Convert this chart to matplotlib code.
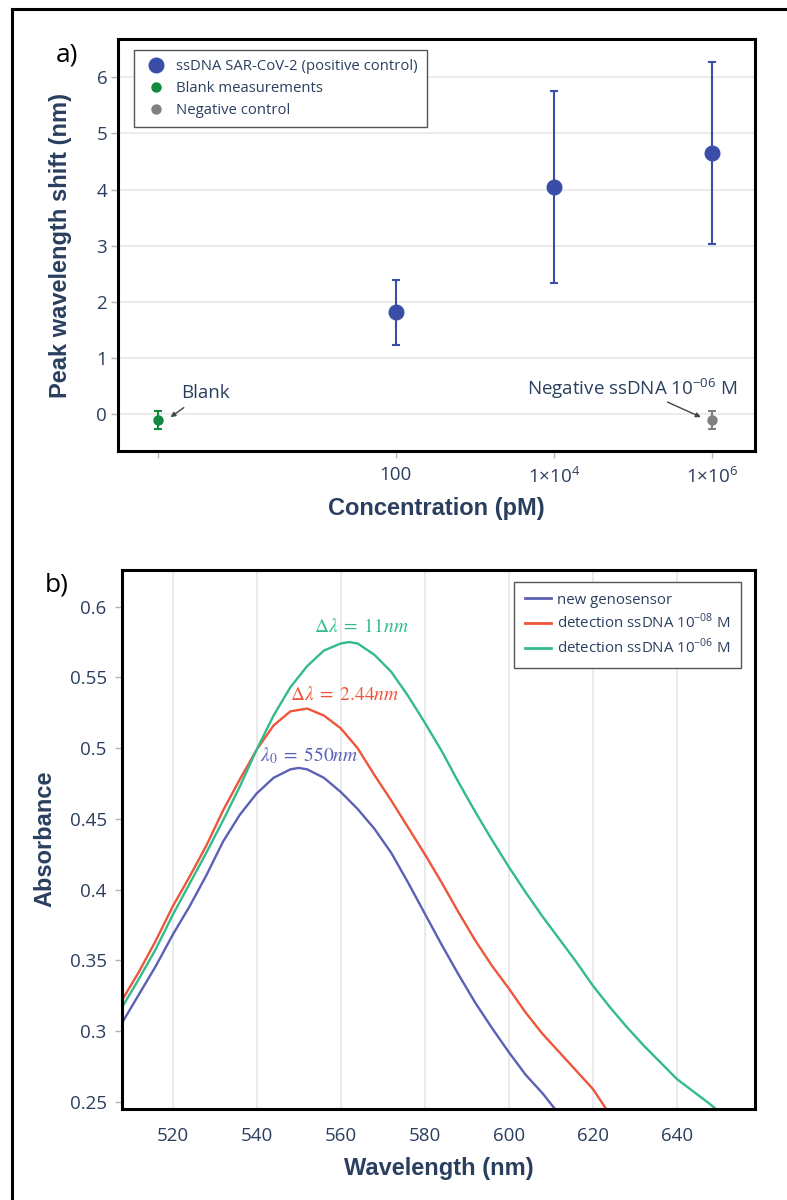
import matplotlib
matplotlib.use('Agg')
import matplotlib.pyplot as plt
from matplotlib.lines import Line2D
from matplotlib.ticker import NullLocator, FixedLocator, FixedFormatter

# ---------------- Panel a data ----------------
conc_pos = [100, 1e4, 1e6]
shift_pos = [1.82, 4.05, 4.65]
err_pos = [0.58, 1.71, 1.62]
conc_blank = [0.1]
shift_blank = [-0.10]
err_blank = [0.16]
conc_neg = [1e6]
shift_neg = [-0.10]
err_neg = [0.16]
xticks_a = [0.1, 100, 1e4, 1e6]
xticklabels_a = ['', '100', r'1×10$^{\mathregular{4}}$', r'1×10$^{\mathregular{6}}$']
yticks_a = [0, 1, 2, 3, 4, 5, 6]

# ---------------- Panel b data ----------------
blue_wl = [508, 512, 516, 520, 524, 528, 532, 536, 540, 544, 548, 550, 552, 556, 560, 564,
           568, 572, 576, 580, 584, 588, 592, 596, 600, 604, 608, 612]
blue_abs = [0.306, 0.326, 0.346, 0.368, 0.388, 0.410, 0.434, 0.453, 0.468, 0.479, 0.485, 0.486,
            0.485, 0.479, 0.469, 0.457, 0.443, 0.426, 0.405, 0.383, 0.361, 0.340, 0.320, 0.302,
            0.285, 0.269, 0.256, 0.241]
red_wl = [508, 512, 516, 520, 524, 528, 532, 536, 540, 544, 548, 552, 556, 560, 564, 568, 572,
          576, 580, 584, 588, 592, 596, 600, 604, 608, 612, 616, 620, 624]
red_abs = [0.322, 0.342, 0.364, 0.388, 0.409, 0.431, 0.456, 0.478, 0.499, 0.516, 0.526, 0.528,
           0.523, 0.514, 0.500, 0.481, 0.463, 0.444, 0.425, 0.405, 0.384, 0.364, 0.346, 0.330,
           0.313, 0.298, 0.285, 0.272, 0.259, 0.241]
green_wl = [508, 512, 516, 520, 524, 528, 532, 536, 540, 544, 548, 552, 556, 560, 562, 564, 568,
            572, 576, 580, 584, 588, 592, 596, 600, 604, 608, 612, 616, 620, 624, 628, 632, 636,
            640, 644, 648, 650]
green_abs = [0.317, 0.337, 0.358, 0.382, 0.404, 0.426, 0.449, 0.473, 0.499, 0.523, 0.543, 0.558,
             0.569, 0.574, 0.575, 0.574, 0.566, 0.554, 0.537, 0.518, 0.498, 0.476, 0.455, 0.435,
             0.416, 0.398, 0.381, 0.365, 0.349, 0.332, 0.317, 0.303, 0.290, 0.278, 0.266, 0.257,
             0.248, 0.243]
xticks_b = [520, 540, 560, 580, 600, 620, 640]
yticks_b = [0.25, 0.3, 0.35, 0.4, 0.45, 0.5, 0.55, 0.6]
yticklabels_b = ['0.25', '0.3', '0.35', '0.4', '0.45', '0.5', '0.55', '0.6']

TXT = '#2a3f5f'
TICKFONT = 'Open Sans'
TITLEFONT = 'Liberation Sans'
C_POS, C_BLANK, C_NEG = '#3a4ea7', '#118a3e', '#808080'
C_B, C_R, C_G = '#5c60b4', '#ee553b', '#33bb8a'

W, H = 787, 1200
fig = plt.figure(figsize=(W / 100, H / 100), dpi=100)
fig.patch.set_facecolor('white')

# outer frame
fig.add_artist(Line2D([12 / W, 12 / W], [0, 1 - 9 / H], transform=fig.transFigure, color='black', lw=2.2))
fig.add_artist(Line2D([12 / W, 1], [1 - 9 / H, 1 - 9 / H], transform=fig.transFigure, color='black', lw=2.2))


def style_axes(ax):
    for s in ax.spines.values():
        s.set_linewidth(2.2)
        s.set_color('black')
    ax.set_axisbelow(True)
    for lab in ax.get_xticklabels() + ax.get_yticklabels():
        lab.set_fontfamily(TICKFONT)


# ---------------- Panel a ----------------
ax1 = fig.add_axes([118.3 / W, 1 - 451 / H, (755 - 118.3) / W, (451 - 39.3) / H])
ax1.set_xscale('log')
ax1.set_xlim(10 ** -1.507, 10 ** 6.542)
ax1.set_ylim(-0.653, 6.676)
ax1.yaxis.grid(True, color='#e8e8e8', lw=1.2)
ax1.xaxis.set_minor_locator(NullLocator())
ax1.xaxis.set_major_locator(FixedLocator(xticks_a))
ax1.xaxis.set_major_formatter(FixedFormatter(xticklabels_a))
ax1.set_yticks(yticks_a)
ax1.tick_params(axis='both', direction='out', length=5, width=1, color='#b5b5b5',
                labelcolor=TXT, labelsize=13.5)
ax1.tick_params(axis='x', pad=6)
ax1.tick_params(axis='y', pad=3)

ax1.errorbar(conc_pos, shift_pos, yerr=err_pos, fmt='o', color=C_POS, ms=10.5, elinewidth=1.5,
             capsize=2.6, capthick=1.5, zorder=3)
ax1.errorbar(conc_blank, shift_blank, yerr=err_blank, fmt='o', color=C_BLANK, ms=6.5, elinewidth=1.5,
             capsize=2.6, capthick=1.5, zorder=3)
ax1.errorbar(conc_neg, shift_neg, yerr=err_neg, fmt='o', color=C_NEG, ms=6.5, elinewidth=1.5,
             capsize=2.6, capthick=1.5, zorder=3)

ax1.text(10 ** -0.411, 0.385, 'Blank', color=TXT, fontsize=13.5, fontfamily=TICKFONT,
         ha='center', va='center')
ax1.annotate('', xy=(10 ** -0.875, -0.08), xytext=(10 ** -0.651, 0.148),
             arrowprops=dict(arrowstyle='-|>', color='#444444', lw=1, mutation_scale=7))
ax1.text(10 ** 4.987, 0.463, r'Negative ssDNA 10$^{\mathregular{-06}}$ M', color=TXT, fontsize=13.5,
         fontfamily=TICKFONT, ha='center', va='center')
ax1.annotate('', xy=(10 ** 5.889, -0.07), xytext=(10 ** 5.405, 0.237),
             arrowprops=dict(arrowstyle='-|>', color='#444444', lw=1, mutation_scale=7))

h1 = [Line2D([], [], ls='none', marker='o', color=C_POS, ms=10.5),
      Line2D([], [], ls='none', marker='o', color=C_BLANK, ms=6.5),
      Line2D([], [], ls='none', marker='o', color=C_NEG, ms=6.5)]
leg1 = ax1.legend(h1, ['ssDNA SAR-CoV-2 (positive control)', 'Blank measurements', 'Negative control'],
                  loc='upper left', bbox_to_anchor=(0.0247, 0.974), borderaxespad=0,
                  fancybox=False, edgecolor='#555555', framealpha=1,
                  prop={'family': TICKFONT, 'size': 10.7}, labelspacing=0.48,
                  handlelength=1.8, handletextpad=0.45, borderpad=0.6)
leg1.get_frame().set_linewidth(1)
for t in leg1.get_texts():
    t.set_color(TXT)

ax1.set_ylabel('Peak wavelength shift (nm)', fontsize=17, fontweight='bold', fontfamily=TITLEFONT, color=TXT)
ax1.set_xlabel('Concentration (pM)', fontsize=17, fontweight='bold', fontfamily=TITLEFONT, color=TXT)
ax1.yaxis.set_label_coords(-0.073, 0.5)
ax1.xaxis.set_label_coords(0.5, -0.112)
style_axes(ax1)

# ---------------- Panel b ----------------
ax2 = fig.add_axes([122 / W, 1 - 1108.5 / H, 633 / W, 539 / H])
ax2.set_xlim(507.94, 658.57)
ax2.set_ylim(0.2452, 0.6263)
ax2.xaxis.grid(True, color='#e6e6e6', lw=1.2)
ax2.set_xticks(xticks_b)
ax2.set_yticks(yticks_b)
ax2.set_yticklabels(yticklabels_b)
ax2.tick_params(axis='y', direction='out', length=5, width=1, color='#b5b5b5',
                labelcolor=TXT, labelsize=13.5, pad=6)
ax2.tick_params(axis='x', length=0, labelcolor=TXT, labelsize=13.5, pad=13)

ax2.plot(blue_wl, blue_abs, color=C_B, lw=1.7, label='new genosensor')
ax2.plot(red_wl, red_abs, color=C_R, lw=1.7, label=r'detection ssDNA 10$^{\mathregular{-08}}$ M')
ax2.plot(green_wl, green_abs, color=C_G, lw=1.7, label=r'detection ssDNA 10$^{\mathregular{-06}}$ M')

ax2.text(552.4, 0.4946, r'$\lambda_0\;=\;550nm$', color=C_B, fontsize=14, math_fontfamily='stix',
         ha='center', va='center')
ax2.text(561.0, 0.5382, r'$\Delta\lambda\;=\;2.44nm$', color=C_R, fontsize=14, math_fontfamily='stix',
         ha='center', va='center')
ax2.text(565.0, 0.5863, r'$\Delta\lambda\;=\;11nm$', color=C_G, fontsize=14, math_fontfamily='stix',
         ha='center', va='center')

leg2 = ax2.legend(loc='upper right', bbox_to_anchor=(0.978, 0.977), borderaxespad=0,
                  fancybox=False, edgecolor='#555555', framealpha=1,
                  prop={'family': TICKFONT, 'size': 10.8}, labelspacing=0.36,
                  handlelength=1.75, handletextpad=0.4, borderpad=0.72)
leg2.get_frame().set_linewidth(1)
for t in leg2.get_texts():
    t.set_color(TXT)
for l in leg2.get_lines():
    l.set_linewidth(2)

ax2.set_ylabel('Absorbance', fontsize=17, fontweight='bold', fontfamily=TITLEFONT, color=TXT)
ax2.set_xlabel('Wavelength (nm)', fontsize=17, fontweight='bold', fontfamily=TITLEFONT, color=TXT)
ax2.yaxis.set_label_coords(-0.1035, 0.5)
ax2.xaxis.set_label_coords(0.5, -0.09)
style_axes(ax2)

fig.text(66.5 / W, 1 - 55 / H, 'a)', fontsize=19, fontfamily=TICKFONT, color='black', ha='center', va='center')
fig.text(57 / W, 1 - 585 / H, 'b)', fontsize=19, fontfamily=TICKFONT, color='black', ha='center', va='center')

fig.savefig('out.png', dpi=100, facecolor='white')
